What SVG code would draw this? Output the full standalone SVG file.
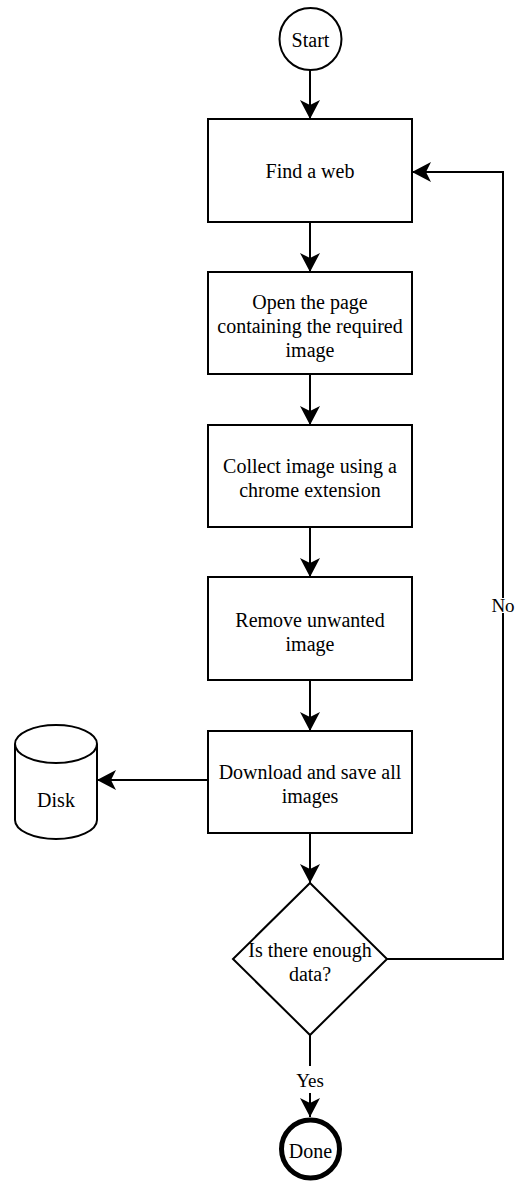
<svg xmlns="http://www.w3.org/2000/svg" width="519" height="1181" viewBox="0 0 519 1181">
<defs>
<marker id="arr" markerUnits="userSpaceOnUse" markerWidth="22" markerHeight="22" refX="19" refY="10" orient="auto">
<path d="M0,0 L19,10 L0,20 L5,10 Z" fill="#000"/>
</marker>
<style>
.shape{fill:#fff;stroke:#000;stroke-width:2}
.t{font-family:"Liberation Serif","Times New Roman",serif;font-size:20px;fill:#000;text-anchor:middle}
.lbl{font-family:"Liberation Serif","Times New Roman",serif;font-size:19px;fill:#000;text-anchor:middle}
.c{fill:none;stroke:#000;stroke-width:2}
</style>
</defs>
<rect width="519" height="1181" fill="#fff"/>
<g id="connectors">
<line class="c" x1="310" y1="70" x2="310" y2="119" marker-end="url(#arr)"/>
<line class="c" x1="310" y1="222" x2="310" y2="272" marker-end="url(#arr)"/>
<line class="c" x1="310" y1="374" x2="310" y2="425" marker-end="url(#arr)"/>
<line class="c" x1="310" y1="527" x2="310" y2="577" marker-end="url(#arr)"/>
<line class="c" x1="310" y1="680" x2="310" y2="731" marker-end="url(#arr)"/>
<line class="c" x1="208" y1="780" x2="97" y2="780" marker-end="url(#arr)"/>
<line class="c" x1="310" y1="833" x2="310" y2="883" marker-end="url(#arr)"/>
<line class="c" x1="310" y1="1035" x2="310" y2="1117" marker-end="url(#arr)"/>
<polyline class="c" points="387,959 503,959 503,172 412,172" marker-end="url(#arr)"/>
<rect x="294" y="1066" width="32" height="27" fill="#fff"/>
<text class="lbl" x="310" y="1087">Yes</text>
<rect x="490" y="598" width="26" height="15" fill="#fff"/>
<text class="lbl" x="503" y="612">No</text>
</g>
<g id="start">
<circle class="shape" cx="310.5" cy="39" r="31"/>
<text class="t" x="310.5" y="47">Start</text>
</g>
<g id="find">
<rect class="shape" x="208" y="119" width="204" height="103"/>
<text class="t" x="310" y="178">Find a web</text>
</g>
<g id="open">
<rect class="shape" x="208" y="272" width="204" height="102"/>
<text class="t" x="310" y="309">Open the page</text>
<text class="t" x="310" y="333">containing the required</text>
<text class="t" x="310" y="357">image</text>
</g>
<g id="collect">
<rect class="shape" x="208" y="425" width="204" height="102"/>
<text class="t" x="310" y="473">Collect image using a</text>
<text class="t" x="310" y="497">chrome extension</text>
</g>
<g id="remove">
<rect class="shape" x="208" y="577" width="204" height="103"/>
<text class="t" x="310" y="627">Remove unwanted</text>
<text class="t" x="310" y="651">image</text>
</g>
<g id="download">
<rect class="shape" x="208" y="731" width="204" height="102"/>
<text class="t" x="310" y="779">Download and save all</text>
<text class="t" x="310" y="803">images</text>
</g>
<g id="disk">
<path class="shape" d="M15,744 A41,19 0 0,1 97,744 V820 A41,19 0 0,1 15,820 Z"/>
<path class="c" d="M15,744 A41,19 0 0,0 97,744"/>
<text class="t" x="56" y="807">Disk</text>
</g>
<g id="decision">
<polygon class="shape" points="310,883 387,959 310,1035 233,959"/>
<text class="t" x="310" y="957">Is there enough</text>
<text class="t" x="310" y="981">data?</text>
</g>
<g id="done">
<circle cx="310.5" cy="1149" r="29" fill="#fff" stroke="#000" stroke-width="5"/>
<text class="t" x="310.5" y="1158">Done</text>
</g>
</svg>
